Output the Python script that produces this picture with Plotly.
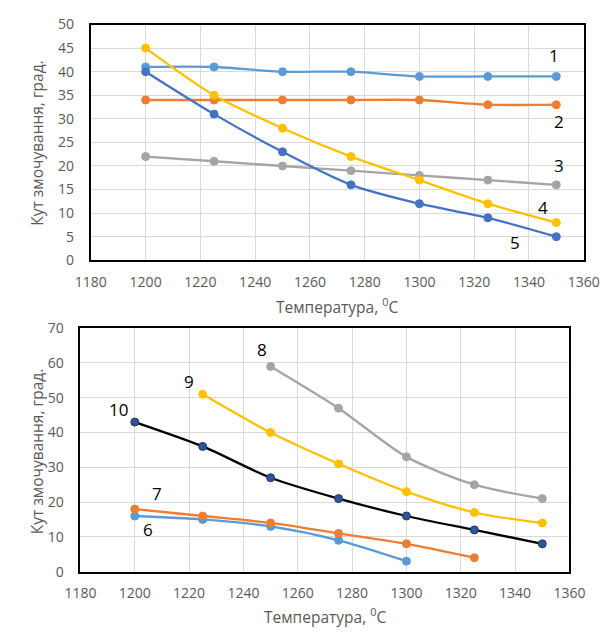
import plotly.graph_objects as go

# ---- Data: top chart ----
temps_top = [1200, 1225, 1250, 1275, 1300, 1325, 1350]
s1 = [41, 41, 40, 40, 39, 39, 39]
s2 = [34, 34, 34, 34, 34, 33, 33]
s3 = [22, 21, 20, 19, 18, 17, 16]
s4 = [45, 35, 28, 22, 17, 12, 8]
s5 = [40, 31, 23, 16, 12, 9, 5]

# ---- Data: bottom chart ----
t6 = [1200, 1225, 1250, 1275, 1300]
s6 = [16, 15, 13, 9, 3]
t7 = [1200, 1225, 1250, 1275, 1300, 1325]
s7 = [18, 16, 14, 11, 8, 4]
t8 = [1250, 1275, 1300, 1325, 1350]
s8 = [59, 47, 33, 25, 21]
t9 = [1225, 1250, 1275, 1300, 1325, 1350]
s9 = [51, 40, 31, 23, 17, 14]
t10 = [1200, 1225, 1250, 1275, 1300, 1325, 1350]
s10 = [43, 36, 27, 21, 16, 12, 8]

# curve labels (text, x, y)
labels_top = [("1", 1349, 43.5), ("2", 1351, 29.5), ("3", 1351, 20.2),
              ("4", 1345, 11.2), ("5", 1335, 3.8)]
labels_bot = [("8", 1247, 63.8), ("9", 1220, 54.8), ("10", 1194, 46.5),
              ("7", 1208, 22.5), ("6", 1205, 12.0)]

C_LBLUE = "#5B9BD5"
C_ORANGE = "#ED7D31"
C_GRAY = "#A5A5A5"
C_YELLOW = "#FFC000"
C_BLUE = "#4472C4"

FONT = "Open Sans"

fig = go.Figure()

def add(x, y, color, xa, ya, mcolor=None, mline=None):
    fig.add_trace(go.Scatter(
        x=x, y=y, mode="lines+markers",
        line=dict(color=color, width=2.3, shape="spline", smoothing=0.8),
        marker=dict(symbol="circle", size=8, color=mcolor or color,
                    line=dict(color=mline or (mcolor or color), width=1)),
        xaxis=xa, yaxis=ya, showlegend=False, hoverinfo="skip"))

add(temps_top, s1, C_LBLUE, "x", "y")
add(temps_top, s2, C_ORANGE, "x", "y")
add(temps_top, s3, C_GRAY, "x", "y")
add(temps_top, s4, C_YELLOW, "x", "y")
add(temps_top, s5, C_BLUE, "x", "y")

add(t6, s6, C_LBLUE, "x2", "y2")
add(t7, s7, C_ORANGE, "x2", "y2")
add(t8, s8, C_GRAY, "x2", "y2")
add(t9, s9, C_YELLOW, "x2", "y2")
add(t10, s10, "#000000", "x2", "y2", mcolor="#2F5597", mline="#1F3864")

W, H = 612, 634

axis_common = dict(
    showgrid=True, gridcolor="#D9D9D9", gridwidth=1,
    showline=True, linecolor="#000000", linewidth=2, mirror=True,
    zeroline=False, ticks="", fixedrange=True,
    tickfont=dict(family=FONT, size=14, color="#595959"),
)

fig.update_layout(
    width=W, height=H,
    margin=dict(l=0, r=0, t=0, b=0),
    paper_bgcolor="white", plot_bgcolor="white",
    font=dict(family=FONT),
    hovermode=False,
    xaxis=dict(domain=[79 / W, 599 / W], range=[1180, 1360], dtick=20,
               tick0=1180, anchor="y", ticklabelstandoff=8, **axis_common),
    yaxis=dict(domain=[1 - 258 / H, 1 - 15 / H], range=[0, 50], dtick=5,
               anchor="x", ticklabelstandoff=12, **axis_common),
    xaxis2=dict(domain=[68 / W, 584 / W], range=[1180, 1360], dtick=20,
                tick0=1180, anchor="y2", ticklabelstandoff=8, **axis_common),
    yaxis2=dict(domain=[1 - 579 / H, 1 - 328 / H], range=[0, 70], dtick=10,
                anchor="x2", ticklabelstandoff=12, **axis_common),
)

ann = []
for t, x, y in labels_top:
    ann.append(dict(text=t, x=x, y=y, xref="x", yref="y", showarrow=False,
                    xanchor="center", yanchor="middle",
                    font=dict(family=FONT, size=17, color="#000000")))
for t, x, y in labels_bot:
    ann.append(dict(text=t, x=x, y=y, xref="x2", yref="y2", showarrow=False,
                    xanchor="center", yanchor="middle",
                    font=dict(family=FONT, size=17, color="#000000")))

title_font = dict(family=FONT, size=15.5, color="#595959")
ytitle = "Кут змочування, град."
xtitle = "Температура, <sup>0</sup>C"
for text, x, y, ang in [
    (ytitle, 22, 137, -90),
    (ytitle, 23, 455, -90),
    (xtitle, 339, 305, 0),
    (xtitle, 326, 625, 0),
]:
    ann.append(dict(text=text, x=x / W, y=1 - y / H, xref="paper", yref="paper",
                    xanchor="center", yanchor="middle", textangle=ang,
                    showarrow=False, font=title_font))
fig.update_layout(annotations=ann)

fig.write_html("out.html",
               config={"displayModeBar": False},
               post_script="document.body.style.margin='0';"
                           "document.body.style.overflow='hidden';")
